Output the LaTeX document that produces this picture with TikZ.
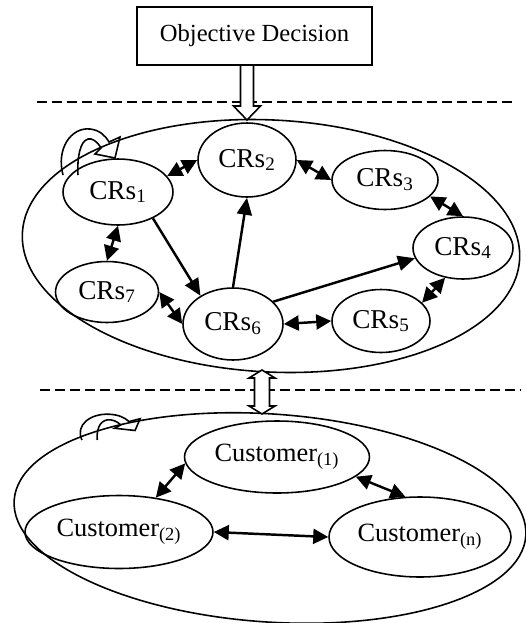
\documentclass[tikz,border=0pt]{standalone}
\usepackage{fontspec}
\setmainfont{Liberation Serif}
\usetikzlibrary{shapes.geometric,arrows.meta}

\tikzset{
  selfloop/.pic={
    \draw[loopline] (0,0) .. controls (-7,-26) and (8,-48) .. (27,-46)
      .. controls (36,-45) and (42,-40) .. (46,-33) -- (57,-38) -- (52,-17) -- (32,-21) -- (38,-27)
      .. controls (34,-34) and (29,-37) .. (25,-36)
      .. controls (17,-34) and (14,-17) .. (15,0);
  }
}

\begin{document}
\begin{tikzpicture}[x=0.02cm, y=-0.02cm,
  crs/.style={draw, ellipse, line width=0.9pt, inner sep=0pt, font=\fontsize{15.5}{18}\selectfont},
  cust/.style={draw, ellipse, line width=0.9pt, inner sep=0pt, font=\fontsize{15}{18}\selectfont},
  area/.style={draw, ellipse, line width=0.9pt, inner sep=0pt},
  link/.style={line width=1.4pt, -{Triangle[length=0.34cm,width=0.3cm]}},
  both/.style={line width=1.4pt, {Triangle[length=0.3cm,width=0.3cm]}-{Triangle[length=0.3cm,width=0.3cm]}},
  hollow/.style={draw, fill=white, line width=0.9pt},
  loopline/.style={draw, line width=0.9pt},
  layer/.style={line width=1.2pt, dash pattern=on 0.2cm off 0.1cm}]
	\useasboundingbox (0,0) rectangle (526,623);
	% the two levels
	\draw[layer] (37,102) -- (516,102);
	\draw[layer] (40,390) -- (520,390);
	\node[area, minimum width=9.96cm, minimum height=5.04cm, rotate=-3] (crsarea) at (271,246) {};
	\node[area, minimum width=10.26cm, minimum height=4.16cm, rotate=-4] (custarea) at (270,518) {};
	% decision coming down, and the link between the levels
	\coordinate (drop) at (247,120);
	\draw[hollow] (drop) ++(-6.5,-55) -- ++(0,41) -- ++(-7,0) -- (drop) -- ++(13.5,-14) -- ++(-7,0) -- ++(0,-41);
	\node[draw, line width=0.9pt, minimum width=4.7cm, minimum height=1.16cm, font=\fontsize{14}{16}\selectfont] (objective) at (254.5,36) {Objective Decision};
	\coordinate (rise) at (262,370);
	\coordinate (sink) at (262,414);
	\draw[hollow] (rise) -- ++(13,8) -- ++(-5.5,0) -- ++(0,28) -- ++(5.5,0) -- (sink) -- ++(-13,-8) -- ++(5.5,0) -- ++(0,-28) -- ++(-5.5,0) -- cycle;
	% CRs nodes
	\foreach \i/\x/\y/\w/\h in {1/118/192/2.2/1.32, 2/247/160/1.96/1.48, 3/385/180/2.12/1.18, 4/463/248/2.0/1.24, 5/381/321/1.96/1.26, 6/233/324/2.0/1.44, 7/107/292/2.06/1.22}
		\node[crs, minimum width=\w cm, minimum height=\h cm] (c\i) at (\x,\y) {CRs\textsubscript{\i}};
	% customers
	\node[cust, minimum width=3.7cm, minimum height=1.44cm] (u1) at (277,457) {Customer\textsubscript{(1)}};
	\node[cust, minimum width=3.76cm, minimum height=1.46cm] (u2) at (119,532) {Customer\textsubscript{(2)}};
	\node[cust, minimum width=3.64cm, minimum height=1.6cm] (un) at (420,537) {Customer\textsubscript{(n)}};
	\foreach \a/\b in {c1.18/c2.west, c2.east/c3.west, c3.-20/c4.north, c4.-121/c5.24, c6.east/c5.west, c7.east/c6.west, c1.south/c7.north, u1.184/u2.43, u1.-14/un.110, u2.east/un.west}
		\draw[both] (\a) -- (\b);
	\foreach \a/\b in {c1.-37/c6.139, c6.north/c2.south, c6.29/c4.192}
		\draw[link] (\a) -- (\b);
	% self loops
	\pic at (63,175) {selfloop};
	\pic[xscale=1.02, yscale=0.56] at (82,440) {selfloop};
\end{tikzpicture}
\end{document}
